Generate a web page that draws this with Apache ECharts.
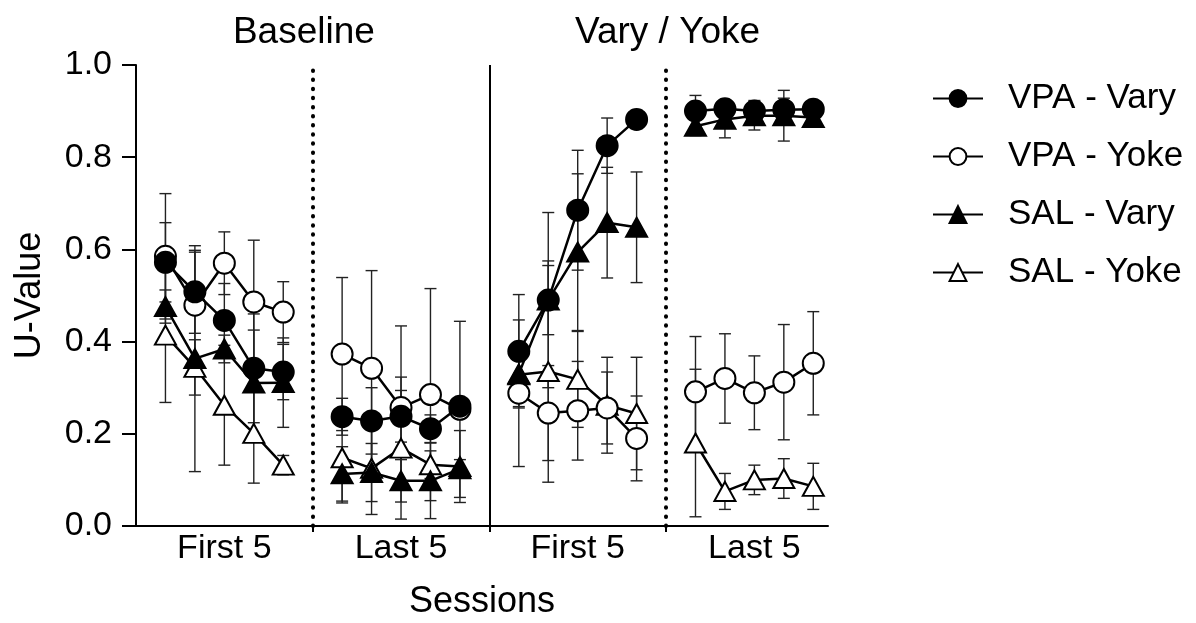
<!DOCTYPE html>
<html>
<head>
<meta charset="utf-8">
<script src="https://cdn.jsdelivr.net/npm/echarts@6/dist/echarts.min.js"></script>
<style>
  html, body { margin: 0; padding: 0; background: #fff; }
  #chart { width: 1196px; height: 623px; }
</style>
</head>
<body>
<div id="chart"></div>
<script>
// Phase and block labels
const phaseTitles = ['Baseline', 'Vary / Yoke'];
const blockLabels = ['First 5', 'Last 5', 'First 5', 'Last 5'];
const yTicks = [0, 0.2, 0.4, 0.6, 0.8, 1.0];

// Mean U-values, 5 sessions per block, 4 blocks
const vpaVary = [0.572, 0.508, 0.446, 0.342, 0.334,
                 0.237, 0.228, 0.238, 0.211, 0.260,
                 0.379, 0.490, 0.685, 0.825, 0.882,
                 0.900, 0.905, 0.900, 0.903, 0.904];
const vpaYoke = [0.585, 0.479, 0.570, 0.486, 0.464,
                 0.373, 0.342, 0.257, 0.285, 0.253,
                 0.288, 0.245, 0.250, 0.256, 0.190,
                 0.291, 0.320, 0.289, 0.312, 0.353];
const salVary = [0.476, 0.363, 0.384, 0.310, 0.311,
                 0.113, 0.116, 0.098, 0.098, 0.124,
                 0.330, 0.490, 0.594, 0.658, 0.648,
                 0.867, 0.882, 0.890, 0.890, 0.886];
const salYoke = [0.414, 0.344, 0.262, 0.201, 0.132,
                 0.148, 0.125, 0.169, 0.133, 0.129,
                 0.328, 0.335, 0.318, 0.262, 0.244,
                 0.180, 0.075, 0.100, 0.103, 0.086];

// Error (+/-) for each mean
const vpaVaryErr = [0.086, 0.090, 0.080, 0.118, 0.060,
                    0.040, 0.072, 0.056, 0.030, 0.016,
                    0.123, 0.190, 0.130, 0.060, 0.020,
                    0.034, 0.010, 0.023, 0.025, 0.010];
const vpaYokeErr = [0.136, 0.115, 0.068, 0.134, 0.066,
                    0.166, 0.212, 0.177, 0.230, 0.191,
                    0.159, 0.103, 0.107, 0.078, 0.092,
                    0.120, 0.097, 0.080, 0.125, 0.112];
const salVaryErr = [0.036, 0.245, 0.030, 0.115, 0.097,
                    0.059, 0.063, 0.046, 0.082, 0.020,
                    0.060, 0.075, 0.170, 0.120, 0.120,
                    0.020, 0.040, 0.031, 0.055, 0.014];
const salYokeErr = [0.146, 0.060, 0.130, 0.108, 0.021,
                    0.098, 0.100, 0.154, 0.030, 0.078,
                    0.069, 0.240, 0.104, 0.104, 0.122,
                    0.160, 0.039, 0.032, 0.043, 0.050];

const PER_BLOCK = 5;
const BLOCK_STEP = 6;           // 5 sessions + 1 empty slot between blocks
const FONT = 'Liberation Sans, Arial, Helvetica, sans-serif';

// x position of a session index (blocks separated by an empty slot)
function xPos(i) {
  return Math.floor(i / PER_BLOCK) * BLOCK_STEP + (i % PER_BLOCK);
}
// Points for a line series, with a break between blocks
function linePoints(vals) {
  const out = [];
  vals.forEach(function (v, i) {
    if (i > 0 && i % PER_BLOCK === 0) out.push([xPos(i) - 1, null]);
    out.push([xPos(i), v]);
  });
  return out;
}
function errPoints(vals, errs) {
  return vals.map(function (v, i) { return [xPos(i), v - errs[i], v + errs[i]]; });
}

const blockCenters = blockLabels.map(function (_, b) { return b * BLOCK_STEP + 2; });
const dividers = [1, 2, 3].map(function (b) { return b * BLOCK_STEP - 1; });

function errorBarSeries(name, vals, errs) {
  return {
    type: 'custom',
    name: name + ' err',
    z: 1,
    silent: true,
    clip: false,
    data: errPoints(vals, errs),
    renderItem: function (params, api) {
      const x = api.value(0);
      const lo = api.coord([x, api.value(1)]);
      const hi = api.coord([x, api.value(2)]);
      const hw = 6;
      const style = { stroke: '#222', lineWidth: 1.4 };
      return {
        type: 'group',
        children: [
          { type: 'line', shape: { x1: lo[0], y1: lo[1], x2: hi[0], y2: hi[1] }, style: style },
          { type: 'line', shape: { x1: lo[0] - hw, y1: lo[1], x2: lo[0] + hw, y2: lo[1] }, style: style },
          { type: 'line', shape: { x1: hi[0] - hw, y1: hi[1], x2: hi[0] + hw, y2: hi[1] }, style: style }
        ]
      };
    }
  };
}

function lineSeries(name, vals, symbol, size, z) {
  return {
    type: 'line',
    name: name,
    z: z,
    data: linePoints(vals),
    connectNulls: false,
    symbol: symbol,
    symbolSize: size,
    showAllSymbol: true,
    lineStyle: { color: '#000', width: 2.5 },
    itemStyle: { color: '#000', borderColor: '#000', borderWidth: 2 },
    emphasis: { disabled: true },
    animation: false
  };
}

const chart = echarts.init(document.getElementById('chart'), null, { renderer: 'canvas' });

const option = {
  animation: false,
  backgroundColor: '#fff',
  textStyle: { fontFamily: FONT, color: '#000' },
  grid: { left: 136, right: 368, top: 65, bottom: 97, containLabel: false, outerBoundsMode: 'none' },
  legend: {
    orient: 'vertical',
    left: 927,
    top: 76,
    itemWidth: 50,
    itemHeight: 21,
    itemGap: 23,
    data: ['VPA - Vary', 'VPA - Yoke', 'SAL - Vary', 'SAL - Yoke'],
    textStyle: { fontFamily: FONT, fontSize: 35, color: '#000', padding: [0, 0, 0, 20] },
    selectedMode: false
  },
  xAxis: {
    type: 'value',
    min: -1,
    max: 22.5,
    name: 'Sessions',
    nameLocation: 'middle',
    nameGap: 58,
    nameTextStyle: { fontFamily: FONT, fontSize: 36, color: '#000' },
    splitLine: { show: false },
    axisLine: { show: true, onZero: false, lineStyle: { color: '#000', width: 2 } },
    axisTick: { show: true, customValues: dividers, length: 6, lineStyle: { color: '#000', width: 2 } },
    axisLabel: {
      customValues: blockCenters,
      margin: 6,
      fontFamily: FONT, fontSize: 34, color: '#000',
      formatter: function (v) { return blockLabels[blockCenters.indexOf(Math.round(v))] || ''; }
    }
  },
  yAxis: {
    type: 'value',
    min: 0,
    max: 1,
    interval: 0.2,
    name: 'U-Value',
    nameLocation: 'middle',
    nameGap: 88,
    nameTextStyle: { fontFamily: FONT, fontSize: 36, color: '#000' },
    splitLine: { show: false },
    axisLine: { show: true, onZero: false, lineStyle: { color: '#000', width: 2 } },
    axisTick: { show: true, length: 14, lineStyle: { color: '#000', width: 2 } },
    axisLabel: {
      margin: 24,
      fontFamily: FONT, fontSize: 34, color: '#000',
      formatter: function (v) { return yTicks.some(function (t) { return Math.abs(t - v) < 1e-9; }) ? v.toFixed(1) : ''; }
    }
  },
  series: [
    errorBarSeries('SAL - Yoke', salYoke, salYokeErr),
    errorBarSeries('SAL - Vary', salVary, salVaryErr),
    errorBarSeries('VPA - Yoke', vpaYoke, vpaYokeErr),
    errorBarSeries('VPA - Vary', vpaVary, vpaVaryErr),
    lineSeries('SAL - Yoke', salYoke, 'emptyTriangle', [21, 19], 3),
    lineSeries('VPA - Yoke', vpaYoke, 'emptyCircle', 21, 4),
    lineSeries('SAL - Vary', salVary, 'triangle', [21, 19], 5),
    Object.assign(lineSeries('VPA - Vary', vpaVary, 'circle', 21, 6), {
      markLine: {
        silent: true,
        symbol: 'none',
        label: { show: false },
        animation: false,
        data: dividers.map(function (d, k) {
          return [
            { coord: [d, 0], lineStyle: k === 1
                ? { type: 'solid', width: 2, color: '#000' }
                : { type: [0.5, 8.6], cap: 'round', width: 4, color: '#000' } },
            { coord: [d, 1] }
          ];
        })
      }
    })
  ]
};

chart.setOption(option);

// Phase titles above the plot
const phaseCenters = [4.7, 17.05];
chart.setOption({
  graphic: phaseTitles.map(function (t, k) {
    const px = chart.convertToPixel({ xAxisIndex: 0 }, phaseCenters[k]);
    return {
      type: 'text',
      x: px,
      y: 33,
      style: { text: t, fontFamily: FONT, fontSize: 37, fill: '#000', align: 'center', verticalAlign: 'middle' }
    };
  })
});
</script>
</body>
</html>
